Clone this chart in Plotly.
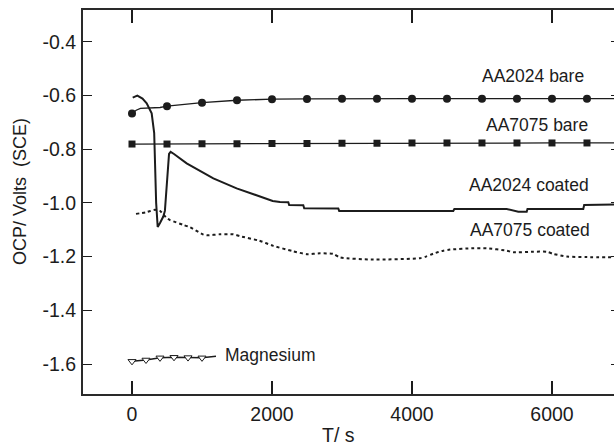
import plotly.graph_objects as go

# Open-circuit potential vs time for bare and coated alloys
aa2024_bare_t = [0, 60, 120, 250, 400, 500, 750, 1000, 1500, 2000, 2500, 3000, 4000, 5000, 6000, 6886]
aa2024_bare_v = [-0.667, -0.655, -0.648, -0.646, -0.645, -0.640, -0.633, -0.627, -0.618, -0.614,
                 -0.613, -0.612, -0.612, -0.612, -0.612, -0.612]
aa2024_bare_mark_t = [0, 500, 1000, 1500, 2000, 2500, 3000, 3500, 4000, 4500, 5000, 5500, 6000, 6500]
aa2024_bare_mark_v = [-0.667, -0.640, -0.627, -0.618, -0.614, -0.613, -0.612, -0.612, -0.612,
                      -0.612, -0.612, -0.612, -0.612, -0.612]

aa7075_bare_t = [0, 1000, 2000, 3000, 4000, 5000, 6000, 6886]
aa7075_bare_v = [-0.781, -0.780, -0.779, -0.778, -0.777, -0.777, -0.777, -0.777]
aa7075_bare_mark_t = [0, 500, 1000, 1500, 2000, 2500, 3000, 3500, 4000, 4500, 5000, 5500, 6000, 6500]
aa7075_bare_mark_v = [-0.781, -0.781, -0.780, -0.780, -0.779, -0.779, -0.778, -0.778, -0.777,
                      -0.777, -0.777, -0.777, -0.777, -0.777]

aa2024_coated_t = [10, 76, 150, 210, 281, 317, 345, 367, 400, 447, 470, 500, 529, 552, 600, 781,
                   1162, 1495, 1819, 2010, 2114, 2233, 2245, 2447, 2460, 2947, 2960, 4590, 4605,
                   5353, 5519, 5639, 5650, 6447, 6460, 6886]
aa2024_coated_v = [-0.608, -0.601, -0.612, -0.629, -0.667, -0.740, -1.000, -1.090, -1.075, -1.051,
                   -1.030, -0.930, -0.818, -0.810, -0.818, -0.853, -0.909, -0.946, -0.977, -0.993,
                   -0.997, -0.998, -1.008, -1.009, -1.020, -1.021, -1.030, -1.030, -1.023,
                   -1.023, -1.033, -1.033, -1.023, -1.023, -1.008, -1.006]

aa7075_coated_t = [57, 200, 329, 400, 496, 543, 733, 829, 1019, 1067, 1257, 1448, 1543, 1819, 2019,
                   2300, 2495, 2686, 2876, 2971, 3448, 4114, 4200, 4305, 4448, 4543, 4876, 5067,
                   5353, 5448, 5733, 5924, 6019, 6210, 6500, 6886]
aa7075_coated_v = [-1.041, -1.035, -1.026, -1.030, -1.057, -1.064, -1.082, -1.091, -1.118, -1.121,
                   -1.117, -1.117, -1.124, -1.141, -1.160, -1.180, -1.191, -1.188, -1.190, -1.203,
                   -1.211, -1.206, -1.200, -1.189, -1.178, -1.174, -1.169, -1.169, -1.178, -1.184,
                   -1.182, -1.182, -1.190, -1.200, -1.202, -1.203]

magnesium_t = [0, 200, 400, 600, 800, 1000, 1200]
magnesium_v = [-1.590, -1.585, -1.577, -1.575, -1.576, -1.577, -1.571]
magnesium_mark_t = [0, 200, 400, 600, 800, 1000]
magnesium_mark_v = [-1.590, -1.585, -1.577, -1.575, -1.576, -1.577]

x_tick_vals = [0, 2000, 4000, 6000]
x_tick_text = ["0", "2000", "4000", "6000"]
y_tick_vals = [-0.4, -0.6, -0.8, -1.0, -1.2, -1.4, -1.6]
y_tick_text = ["-0.4", "-0.6", "-0.8", "-1.0", "-1.2", "-1.4", "-1.6"]

series_labels = [
    ("AA2024 bare", 5729, -0.528, "center"),
    ("AA7075 bare", 5781, -0.710, "center"),
    ("AA2024 coated", 5676, -0.934, "center"),
    ("AA7075 coated", 5686, -1.101, "center"),
    ("Magnesium", 1296, -1.566, "left"),
]

INK = "#1c1c1c"
FONT = "Liberation Sans, Arial, sans-serif"
X_RANGE = [-700, 6886]
Y_RANGE = [-1.7116, -0.282]

fig = go.Figure()

fig.add_trace(go.Scatter(x=aa2024_coated_t, y=aa2024_coated_v, mode="lines",
                         line=dict(color=INK, width=2)))
fig.add_trace(go.Scatter(x=aa7075_coated_t, y=aa7075_coated_v, mode="lines",
                         line=dict(color=INK, width=2, dash="3px,3px", shape="spline", smoothing=0.6)))

fig.add_trace(go.Scatter(x=aa2024_bare_t, y=aa2024_bare_v, mode="lines",
                         line=dict(color=INK, width=1.3)))
fig.add_trace(go.Scatter(x=aa2024_bare_mark_t, y=aa2024_bare_mark_v, mode="markers",
                         marker=dict(symbol="circle", size=8, color=INK)))

fig.add_trace(go.Scatter(x=aa7075_bare_t, y=aa7075_bare_v, mode="lines",
                         line=dict(color=INK, width=1.3)))
fig.add_trace(go.Scatter(x=aa7075_bare_mark_t, y=aa7075_bare_mark_v, mode="markers",
                         marker=dict(symbol="square", size=7, color=INK)))

fig.add_trace(go.Scatter(x=magnesium_t, y=magnesium_v, mode="lines",
                         line=dict(color=INK, width=1.5)))
fig.add_trace(go.Scatter(x=magnesium_mark_t, y=magnesium_mark_v, mode="markers",
                         marker=dict(symbol="triangle-down", size=7, color="white",
                                     line=dict(color=INK, width=1))))

# invisible trace on the right-hand axis so its short inward ticks are drawn
fig.add_trace(go.Scatter(x=[X_RANGE[0]], y=[Y_RANGE[0]], yaxis="y2", mode="markers",
                         marker=dict(opacity=0), hoverinfo="skip"))

for text, x, y, anchor in series_labels:
    fig.add_annotation(x=x, y=y, xref="x", yref="y", text=text, showarrow=False,
                       xanchor=anchor, yanchor="middle",
                       font=dict(family=FONT, size=17.5, color=INK))

fig.add_annotation(x=-0.1186, y=0.526, xref="paper", yref="paper",
                   text="OCP/ Volts\u00a0\u00a0(SCE)", textangle=-90, showarrow=False,
                   xanchor="center", yanchor="middle",
                   font=dict(family=FONT, size=18, color=INK))
fig.add_annotation(x=0.482, y=-0.107, xref="paper", yref="paper",
                   text="T/ s", showarrow=False, xanchor="center", yanchor="middle",
                   font=dict(family=FONT, size=19.5, color=INK))

fig.update_layout(
    width=614, height=446,
    margin=dict(l=83, r=0, t=10, b=52),
    paper_bgcolor="white", plot_bgcolor="white",
    showlegend=False,
    xaxis=dict(range=X_RANGE, tickvals=x_tick_vals, ticktext=x_tick_text,
               ticks="inside", ticklen=13, tickwidth=1.5, tickcolor=INK,
               showline=True, linecolor="#2a2a2a", linewidth=2, mirror="ticks",
               showgrid=False, zeroline=False, ticklabelstandoff=2,
               tickfont=dict(family=FONT, size=19.5, color=INK)),
    yaxis=dict(range=Y_RANGE, tickvals=y_tick_vals, ticktext=y_tick_text,
               ticks="inside", ticklen=9, tickwidth=1, tickcolor=INK,
               showline=True, linecolor="#2a2a2a", linewidth=2, mirror=False,
               showgrid=False, zeroline=False, ticklabelstandoff=1,
               tickfont=dict(family=FONT, size=19.5, color=INK)),
    yaxis2=dict(range=Y_RANGE, tickvals=y_tick_vals, overlaying="y", side="right",
                ticks="inside", ticklen=3, tickwidth=1, tickcolor=INK,
                showticklabels=False, showline=False, showgrid=False, zeroline=False),
)

fig.write_html("out.html")
